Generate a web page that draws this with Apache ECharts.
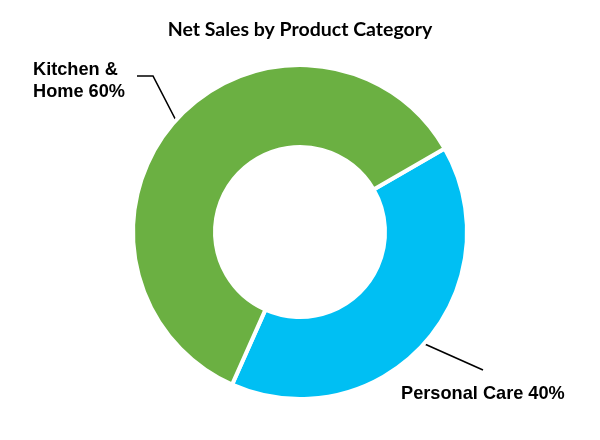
<!DOCTYPE html>
<html>
<head>
<meta charset="utf-8">
<script src="https://cdn.jsdelivr.net/npm/echarts@6/dist/echarts.min.js"></script>
<style>html,body{margin:0;padding:0;background:#fff}#chart{width:600px;height:440px}</style>
</head>
<body>
<div id="chart"></div>
<script>
const titleText = 'Net Sales by Product Category';
const categories = ['Personal Care', 'Kitchen & Home'];
const values = [40, 60];
const colors = ['#00BFF3', '#6BB042'];

const chart = echarts.init(document.getElementById('chart'), null, {renderer: 'canvas'});
chart.setOption({
  animation: false,
  backgroundColor: '#fff',
  title: {
    text: titleText,
    left: 'center',
    top: 15,
    textStyle: {fontFamily: 'Lato', fontWeight: 'bold', fontSize: 19.5, color: '#000'}
  },
  series: [{
    type: 'pie',
    center: [300, 232],
    radius: [85, 167],
    startAngle: 30,
    clockwise: true,
    avoidLabelOverlap: false,
    data: categories.map((c, i) => ({name: c, value: values[i], itemStyle: {color: colors[i]}})),
    itemStyle: {borderColor: '#fff', borderWidth: 4},
    label: {
      show: true,
      position: 'outside',
      fontFamily: 'Liberation Sans, Arial',
      fontWeight: 'bold',
      fontSize: 18.2,
      lineHeight: 22,
      color: '#000',
      align: 'left',
      formatter: p => p.name.replace('& ', '&\n') + ' ' + p.percent + '%'
    },
    labelLine: {show: true, length: 30, length2: 15, lineStyle: {color: '#000', width: 1.6}},
    labelLayout: function (params) {
      const p0 = params.labelLinePoints ? params.labelLinePoints[0] : null;
      if (params.dataIndex === 1) {
        return {x: 33, y: 81, align: 'left', verticalAlign: 'middle',
          labelLinePoints: [p0 || [174, 118], [153, 76], [137, 76]]};
      }
      return {x: 401, y: 394, align: 'left', verticalAlign: 'middle',
        labelLinePoints: [p0 || [426, 344], [483, 370], [483, 370]]};
    },
    emphasis: {disabled: true}
  }]
});
</script>
</body>
</html>
